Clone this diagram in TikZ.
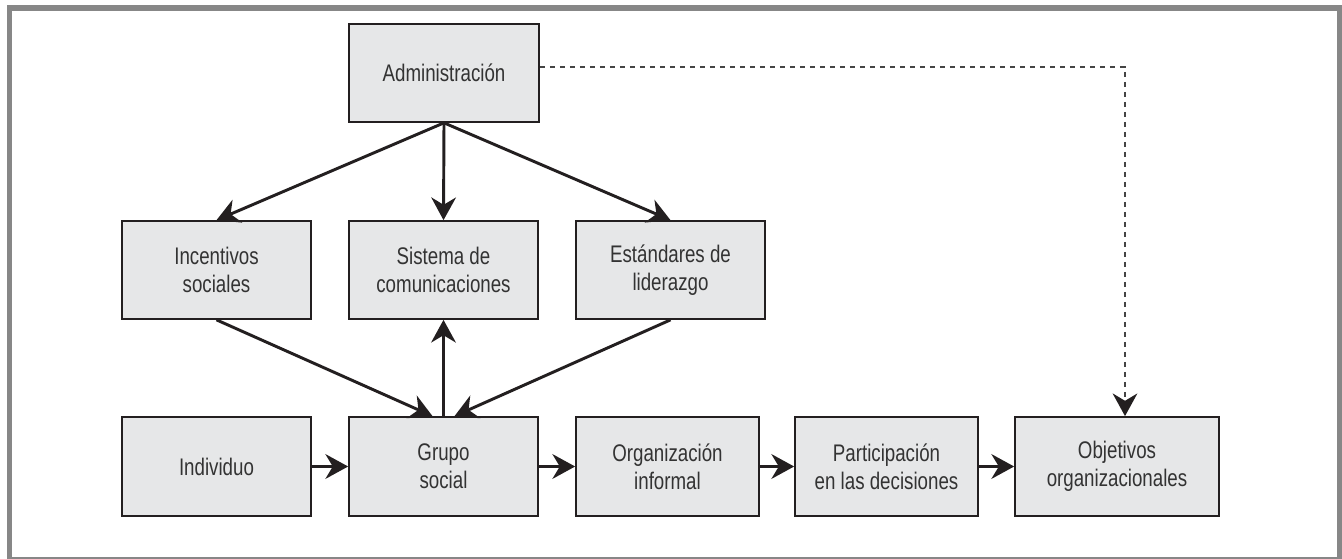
\documentclass[tikz,border=0pt]{standalone}
\usepackage{fontspec}
\setmainfont{Liberation Sans}[FakeStretch=0.78]
\usetikzlibrary{arrows.meta,calc}
\definecolor{boxfill}{HTML}{E6E7E8}
\definecolor{ink}{HTML}{231F20}
\definecolor{txt}{HTML}{333333}
\definecolor{framegray}{HTML}{878787}
\definecolor{dashgray}{HTML}{444444}
\begin{document}
\begin{tikzpicture}[x=0.75pt,y=-0.75pt,
  box/.style={draw=ink, line width=1.3pt, fill=boxfill, inner sep=0pt, align=center,
    font=\fontsize{18}{21}\selectfont, text=txt, minimum height=98*0.75pt},
  arr/.style={draw=ink, line width=2.2pt, -{Stealth[length=17pt,width=18.5pt,inset=5.5pt]}},
  dasharr/.style={draw=dashgray, line width=1.6pt, dash pattern=on 4pt off 3.5pt,
    -{Stealth[length=17pt,width=18.5pt,inset=5.5pt,color=ink]}}
  ]
\useasboundingbox (0,0) rectangle (1342,559);
% frame
\fill[framegray] (7,5) rectangle (1342,11);
\fill[framegray] (7,5) rectangle (12,559);
\fill[framegray] (1337,5) rectangle (1342,559);
\fill[framegray] (7,557) rectangle (1342,559);
% boxes
\node[box, minimum width=190*0.75pt] (adm) at (444,73) {Administración};
\node[box, minimum width=189*0.75pt] (inc) at (216.5,270) {Incentivos\\sociales};
\node[box, minimum width=189*0.75pt] (sis) at (443.5,270) {Sistema de\\comunicaciones};
\node[box, minimum width=189*0.75pt] (est) at (670.5,270) {Estándares de\\liderazgo};
\node[box, minimum width=189*0.75pt, minimum height=99*0.75pt] (ind) at (216.5,466.5) {Individuo};
\node[box, minimum width=189*0.75pt, minimum height=99*0.75pt] (gru) at (443.5,466.5) {Grupo\\social};
\node[box, minimum width=183*0.75pt, minimum height=99*0.75pt] (org) at (667.5,466.5) {Organización\\informal};
\node[box, minimum width=183*0.75pt, minimum height=99*0.75pt] (par) at (886.5,466.5) {Participación\\en las decisiones};
\node[box, minimum width=204*0.75pt, minimum height=99*0.75pt] (obj) at (1117,466.5) {Objetivos\\organizacionales};
% connectors
\coordinate (gl) at ($(gru.north)+(-11,0)$);
\coordinate (gr) at ($(gru.north)+(11,0)$);
\coordinate (dstart) at ($(adm.east)+(0,-6)$);
\coordinate (dend) at ($(obj.north)+(8,0)$);
\draw[arr] (adm.south) -- (inc.north);
\draw[arr] (adm.south) -- (sis.north);
\draw[arr] (adm.south) -- (est.north);
\draw[arr] (inc.south) -- (gl);
\draw[arr] (est.south) -- (gr);
\draw[arr] (gru.north) -- (sis.south);
\draw[arr] (ind.east) -- (gru.west);
\draw[arr] (gru.east) -- (org.west);
\draw[arr] (org.east) -- (par.west);
\draw[arr] (par.east) -- (obj.west);
\draw[dasharr] (dstart) -| (dend);
\end{tikzpicture}
\end{document}
